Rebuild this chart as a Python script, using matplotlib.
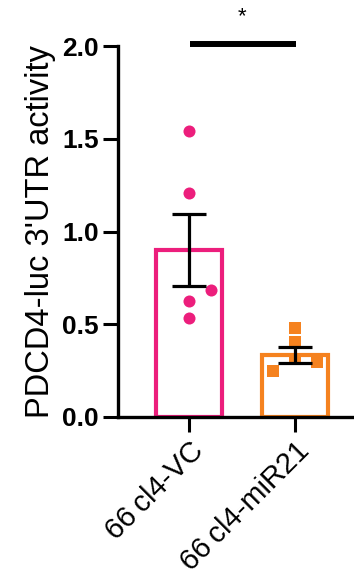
import numpy as np
import matplotlib
matplotlib.use('Agg')
import matplotlib.pyplot as plt

plt.rcParams['font.family'] = ['Liberation Sans', 'DejaVu Sans']

groups = ['66\u2009cl4-VC', '66\u2009cl4-miR21']
means = [0.90, 0.335]
sems = [0.195, 0.042]
colors = ['#EC1E7C', '#F5821F']
markers = ['o', 's']
pts_vc = [1.54, 1.21, 0.685, 0.627, 0.532]
pts_mir = [0.478, 0.406, 0.311, 0.295, 0.250]
jit_vc = [0.0, 0.0, 0.21, 0.0, 0.0]
jit_mir = [0.0, 0.0, 0.0, 0.21, -0.21]
points = [pts_vc, pts_mir]
jitter = [jit_vc, jit_mir]

fig = plt.figure(figsize=(3.54, 5.75), dpi=100)
ax = fig.add_axes([118/354, 1 - 417/575, 236/354, (417 - 46)/575])

x = np.arange(len(groups))
ax.bar(x, means, width=0.63, color='white', edgecolor=colors, linewidth=3, zorder=1)
ax.errorbar(x, means, yerr=sems, fmt='none', ecolor='black', elinewidth=2.3,
            capsize=12.5, capthick=2.3, zorder=3)
for i in range(len(groups)):
    ax.scatter(x[i] + np.array(jitter[i]), points[i], s=75, marker=markers[i],
               color=colors[i], linewidths=0, zorder=2)

# significance bar
ax.plot([0.01, 1.01], [2.01, 2.01], color='black', lw=4.3, clip_on=False,
        solid_capstyle='butt')
ax.text(0.5, 2.1, '*', ha='center', va='bottom', fontsize=16, clip_on=False)

ax.set_xlim(-0.67, 1.557)
ax.set_ylim(0, 2.0)
ax.set_yticks([0.0, 0.5, 1.0, 1.5, 2.0])
ax.set_yticklabels(['0.0', '0.5', '1.0', '1.5', '2.0'], fontweight='bold', fontsize=19)
ax.set_xticks(x)
ax.set_xticklabels(groups, rotation=45, ha='right', va='top', fontsize=21,
                   rotation_mode='anchor')
ax.set_ylabel("PDCD4-luc 3'UTR activity", fontsize=23.5, labelpad=4)

for s in ['top', 'right']:
    ax.spines[s].set_visible(False)
for s in ['left', 'bottom']:
    ax.spines[s].set_linewidth(2.4)
ax.tick_params(axis='both', width=2.2, length=11, pad=3)

fig.savefig('out.png', dpi=100)
